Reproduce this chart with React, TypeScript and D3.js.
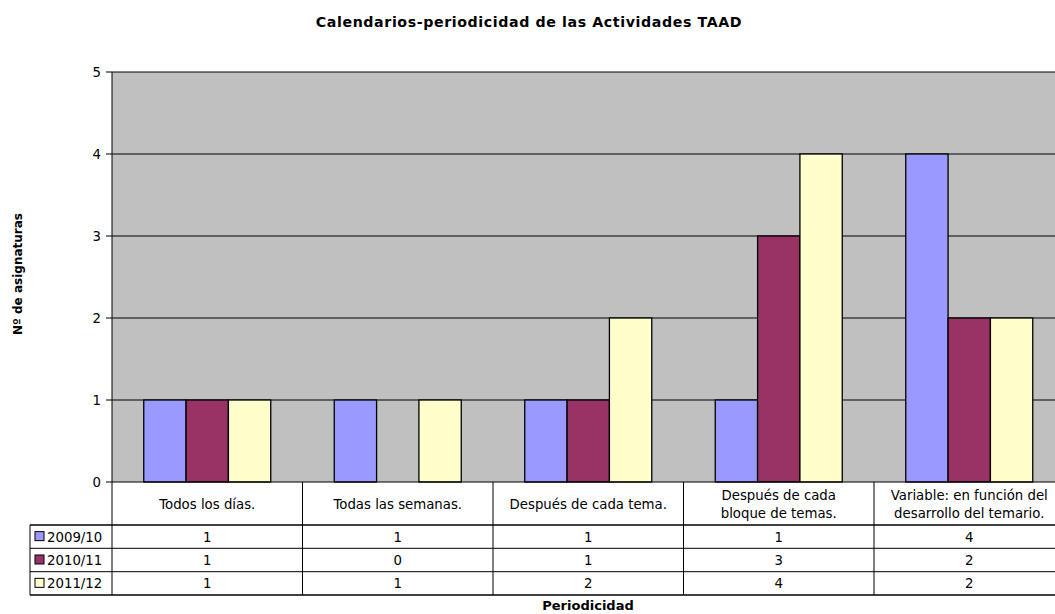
import React from "react";
import * as d3 from "d3";

const categories = [
  ["Todos los días."],
  ["Todas las semanas."],
  ["Después de cada tema."],
  ["Después de cada", "bloque de temas."],
  ["Variable: en función del", "desarrollo del temario."],
];
const seriesNames = ["2009/10", "2010/11", "2011/12"];
const values2009 = [1, 1, 1, 1, 4];
const values2010 = [1, 0, 1, 3, 2];
const values2011 = [1, 1, 2, 4, 2];
const seriesValues = [values2009, values2010, values2011];
const colors = ["#9999FF", "#993366", "#FFFFCC"];
const yTicks = [0, 1, 2, 3, 4, 5];

const W = 1055, H = 614;
const left = 112, right = 1064.5, top = 72, bottom = 482;
const rowYs = [525, 548.3, 571.7, 595];
const tableLeft = 30;
const font = "'DejaVu Sans', sans-serif";
const fs = 13.3;

export default function App() {
  const x = d3.scaleBand<number>().domain(d3.range(categories.length)).range([left, right]).paddingInner(0).paddingOuter(0);
  const y = d3.scaleLinear().domain([0, 5]).range([bottom, top]);
  // Excel gap width 150%
  const bw = x.bandwidth() / (seriesNames.length + 1.5);
  const gap = bw * 0.75;
  return (
    <svg width={W} height={H} style={{ position: "absolute", left: 0, top: 0, background: "#fff" }} fontFamily={font}>
      <rect x={0} y={0} width={W} height={H} fill="#fff" />
      <text x={529} y={27} textAnchor="middle" fontWeight="bold" fontSize={14.2} letterSpacing={0.6} fill="#000">
        Calendarios-periodicidad de las Actividades TAAD
      </text>
      <rect x={left} y={top} width={right - left} height={bottom - top} fill="#C0C0C0" />
      {yTicks.map((t) => (
        <g key={t}>
          {t > 0 && <line x1={left} x2={right} y1={y(t)} y2={y(t)} stroke="#000" strokeWidth={1} />}
          <line x1={left - 6} x2={left} y1={y(t)} y2={y(t)} stroke="#000" />
          <text x={left - 11} y={y(t) + 5} textAnchor="end" fontSize={fs} fill="#000">{t}</text>
        </g>
      ))}
      {seriesValues.map((vals, s) =>
        vals.map((v, i) => (
          <rect key={s + "-" + i}
            x={(x(i) as number) + gap + s * bw}
            y={y(v)}
            width={bw}
            height={y(0) - y(v)}
            fill={colors[s]}
            stroke="#000"
            strokeWidth={1.3}
          />
        ))
      )}
      <line x1={left} x2={left} y1={top} y2={rowYs[3]} stroke="#000" />
      <line x1={left} x2={right} y1={bottom} y2={bottom} stroke="#000" />
      {rowYs.map((ry, i) => (
        <line key={ry} x1={tableLeft} x2={right} y1={ry} y2={ry} stroke="#000" strokeWidth={i === 0 || i === 3 ? 1.3 : 1} />
      ))}
      <line x1={tableLeft} x2={tableLeft} y1={rowYs[0]} y2={rowYs[3]} stroke="#000" />
      {categories.map((c, i) => (
        <g key={i}>
          <line x1={(x(i) as number) + x.bandwidth()} x2={(x(i) as number) + x.bandwidth()} y1={bottom} y2={rowYs[3]} stroke="#000" />
          {c.map((line, j) => (
            <text key={j} x={(x(i) as number) + x.bandwidth() / 2}
              y={c.length === 1 ? 509 : 500 + j * 18}
              textAnchor="middle" fontSize={fs} fill="#000">{line}</text>
          ))}
          {seriesValues.map((vals, s) => (
            <text key={s} x={(x(i) as number) + x.bandwidth() / 2} y={(rowYs[s] + rowYs[s + 1]) / 2 + 5}
              textAnchor="middle" fontSize={fs} fill="#000">{vals[i]}</text>
          ))}
        </g>
      ))}
      {seriesNames.map((n, s) => (
        <g key={n}>
          <rect x={35} y={(rowYs[s] + rowYs[s + 1]) / 2 - 5} width={9} height={9} fill={colors[s]} stroke="#000" strokeWidth={1} />
          <text x={47} y={(rowYs[s] + rowYs[s + 1]) / 2 + 5} fontSize={fs} fill="#000">{n}</text>
        </g>
      ))}
      <text x={588} y={610} textAnchor="middle" fontWeight="bold" fontSize={13} fill="#000">Periodicidad</text>
      <text transform={`translate(22, 274) rotate(-90)`} textAnchor="middle" fontWeight="bold" fontSize={12} fill="#000">Nº de asignaturas</text>
    </svg>
  );
}
